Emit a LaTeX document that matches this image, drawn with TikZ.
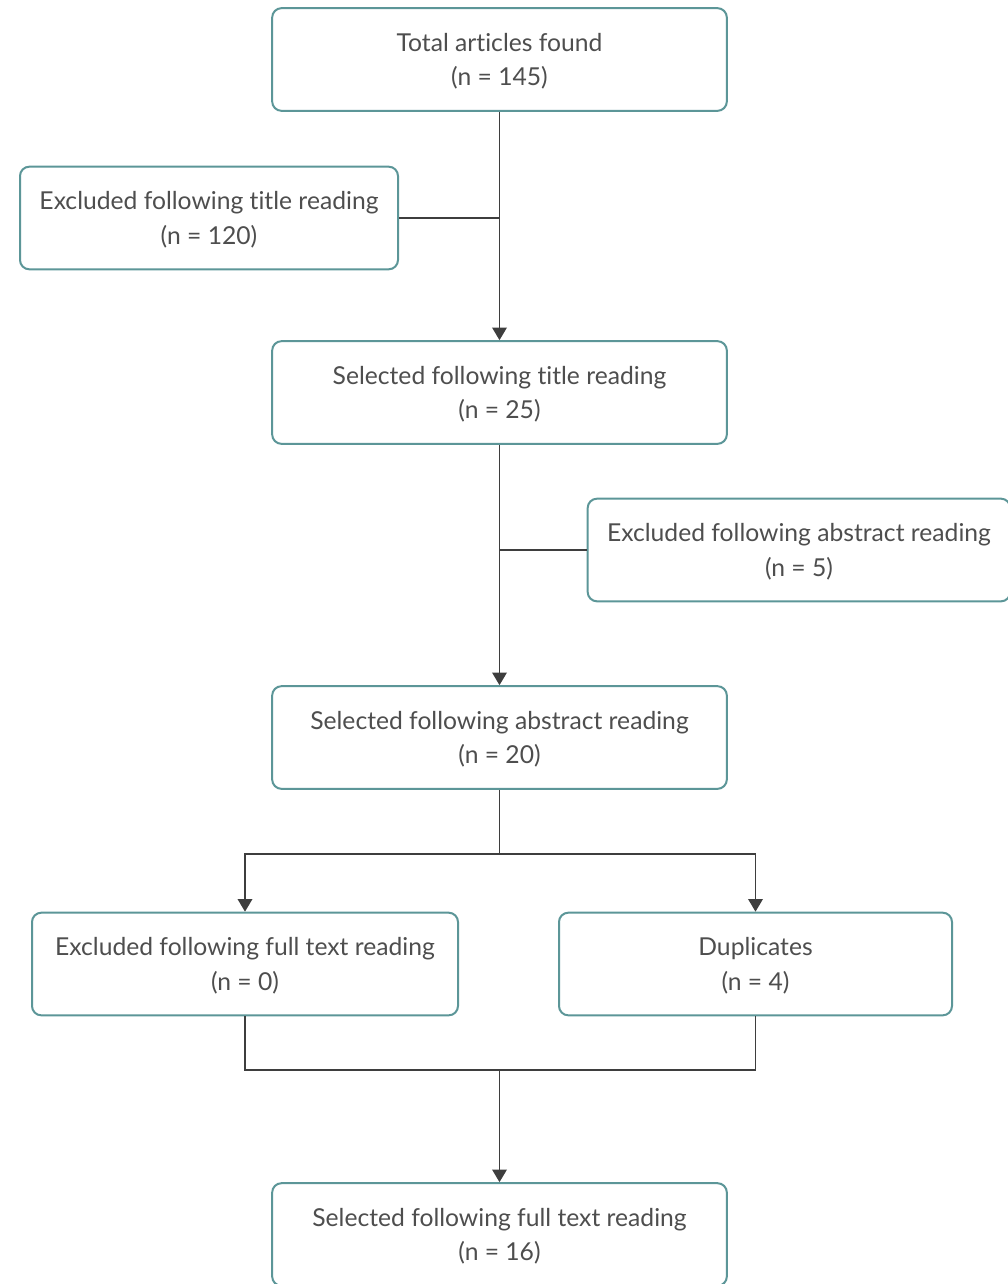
\documentclass[tikz,border=0pt]{standalone}
\usepackage{fontspec}
\setmainfont[Ligatures=NoCommon]{Lato}
\usepackage{tikz}
\usetikzlibrary{arrows.meta, positioning}
\usepackage{xcolor}
\definecolor{boxedge}{RGB}{92,150,152}
\definecolor{boxtext}{RGB}{78,78,78}
\definecolor{linkline}{RGB}{62,62,62}

\begin{document}
\begin{tikzpicture}[
    x=0.75pt, y=-0.75pt,
    >={Triangle[length=9.5pt, width=11pt]},
    stagebox/.style={rectangle, rounded corners=7pt, draw=boxedge, line width=1.5pt,
                fill=white, minimum width=341pt, minimum height=77pt, text depth=0pt,
                font=\fontsize{18.5}{26}\selectfont, align=center, text=boxtext},
    exclbox/.style={stagebox, minimum width=283.5pt},
    link/.style={draw=linkline, line width=1.1pt},
]
\useasboundingbox (0,0) rectangle (1007,1284);
% main column
\node[stagebox] (total) at (499.5, 59.5)  {Total articles found\\(n = 145)};
\node[stagebox] (seltitle) at (499.5, 392.5) {Selected following title reading\\(n = 25)};
\node[stagebox] (selabs) at (499.5, 737.5) {Selected following abstract reading\\(n = 20)};
\node[stagebox] (selfull) at (499.5, 1234.5) {Selected following full text reading\\(n = 16)};
% exclusions
\node[exclbox] (extitle) at (209, 218) {Excluded following title reading\\(n = 120)};
\node[exclbox, minimum width=317pt] (exabs) at (799, 550) {Excluded following abstract reading\\(n = 5)};
\node[exclbox, minimum width=319.5pt] (exfull) at (245, 964) {Excluded following full text reading\\(n = 0)};
\node[exclbox, minimum width=294.75pt] (dupl) at (755.5, 964) {Duplicates\\(n = 4)};
\coordinate (split) at (499.5, 854);
\coordinate (merge) at (499.5, 1070);
% connectors
\draw[link, ->] (total.south) -- (seltitle.north);
\draw[link] (extitle.east) -- (extitle.east -| total.south);
\draw[link, ->] (seltitle.south) -- (selabs.north);
\draw[link] (exabs.west) -- (exabs.west -| seltitle.south);
\draw[link] (selabs.south) -- (split);
\draw[link, ->] (split) -| (exfull.north);
\draw[link, ->] (split) -| (dupl.north);
\draw[link] (exfull.south) |- (merge);
\draw[link] (dupl.south) |- (merge);
\draw[link, ->] (merge) -- (selfull.north);
\end{tikzpicture}
\end{document}
